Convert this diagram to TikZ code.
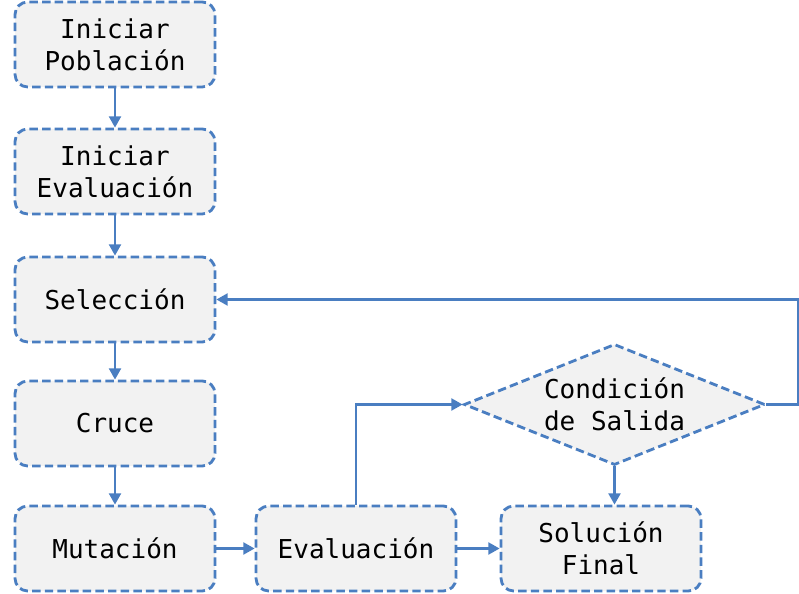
\documentclass[tikz,border=0pt]{standalone}
\usepackage{fontspec}
\usepackage{tikz}
\usetikzlibrary{arrows.meta,shapes.geometric}
\newfontfamily\monofont{DejaVu Sans Mono}
\definecolor{lineblue}{RGB}{74,126,193}
\definecolor{boxgray}{RGB}{242,242,242}

\begin{document}
\begin{tikzpicture}[
  font=\monofont\fontsize{18.5}{23}\selectfont,
  >={Triangle[length=8pt,width=8.5pt]},
  stepbox/.style={draw=lineblue, line width=2pt, dash pattern=on 6pt off 3pt,
    rounded corners=9pt, fill=boxgray, align=center,
    minimum width=5cm, minimum height=2.125cm, inner sep=2pt},
  decision/.style={diamond, draw=lineblue, line width=2pt, dash pattern=on 6pt off 3pt,
    fill=boxgray, align=center, aspect=2.5, inner sep=1pt,
    minimum width=7.525cm, minimum height=3.025cm},
  flow/.style={->, line width=1.7pt, lineblue}
]
  \useasboundingbox (0,0) rectangle (19.975,-14.85);

  \node[stepbox] (pob) at (2.875,-1.1125) {Iniciar\\Población};
  \node[stepbox] (ieval) at (2.875,-4.2875) {Iniciar\\Evaluación};
  \node[stepbox] (sel) at (2.875,-7.4875) {Selección};
  \node[stepbox] (cruce) at (2.875,-10.5875) {Cruce};
  \node[stepbox] (mut) at (2.875,-13.7125) {Mutación};
  \node[stepbox] (eval) at (8.9,-13.7125) {Evaluación};
  \node[stepbox] (sol) at (15.025,-13.7125) {Solución\\Final};
  \node[decision] (cond) at (15.3625,-10.1125) {Condición\\de Salida};

  \draw[flow] (pob) -- (ieval);
  \draw[flow] (ieval) -- (sel);
  \draw[flow] (sel) -- (cruce);
  \draw[flow] (cruce) -- (mut);
  \draw[flow] (mut) -- (eval);
  \draw[flow] (eval) -- (sol);
  \draw[flow] (eval.north) |- (cond.west);
  \draw[flow] (cond.south) -- (cond.south |- sol.north);
  \draw[flow] (cond.east) -- ++(0.8,0) |- (sel.east);
\end{tikzpicture}
\end{document}
